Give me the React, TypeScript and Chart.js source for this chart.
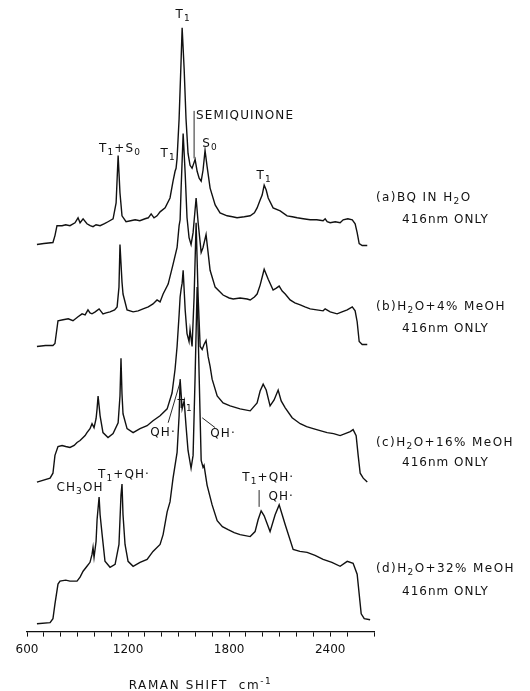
import React, { useEffect, useRef } from "react";
import { Chart, registerables } from "chart.js";

Chart.register(...registerables);

// Raman shift axis (cm-1)
const shiftMin = 600;
const shiftMax = 2660;
const shiftStep = 100;
const majorTicks = [600, 1200, 1800, 2400];

// Each trace: [Raman shift cm-1, relative intensity (offset trace stack)]
const traceA: [number, number][] = [
  [659, 391], [700, 392], [754, 393], [766, 400], [778, 410], [808, 410], [830, 411], [855, 410], [885, 413],
  [903, 418], [915, 413], [933, 417], [956, 412], [975, 410], [992, 409], [1010, 411], [1034, 410], [1060, 412],
  [1081, 414], [1111, 417], [1129, 433], [1141, 481], [1152, 443], [1164, 420], [1188, 414], [1215, 415],
  [1242, 416], [1270, 415], [1301, 417], [1320, 418], [1337, 422], [1354, 418], [1372, 420], [1390, 424],
  [1420, 428], [1449, 438], [1467, 455], [1479, 465], [1485, 468], [1491, 478], [1503, 518], [1515, 578],
  [1521, 610], [1533, 568], [1544, 518], [1556, 483], [1568, 471], [1580, 468], [1592, 474], [1598, 477],
  [1610, 465], [1622, 458], [1634, 455], [1645, 466], [1657, 486], [1669, 470], [1687, 448], [1717, 431],
  [1746, 423], [1788, 420], [1820, 419], [1847, 418], [1890, 419], [1925, 420], [1950, 423], [1966, 428],
  [1984, 436], [1996, 441], [2008, 451], [2020, 446], [2032, 438], [2061, 428], [2103, 425], [2144, 420],
  [2175, 419], [2204, 418], [2240, 417], [2281, 416], [2320, 416], [2358, 415], [2370, 417], [2382, 414],
  [2400, 413], [2430, 414], [2459, 413], [2477, 416], [2505, 417], [2531, 416], [2548, 412], [2560, 403],
  [2572, 392], [2590, 390], [2620, 390],
];

const traceB: [number, number][] = [
  [659, 288], [710, 289], [754, 289], [766, 291], [784, 314], [814, 315], [845, 316], [873, 314], [903, 318],
  [927, 321], [945, 320], [962, 325], [974, 322], [986, 321], [1005, 323], [1028, 326], [1051, 321], [1070, 322],
  [1093, 323], [1120, 325], [1135, 328], [1146, 348], [1152, 391], [1164, 353], [1170, 341], [1194, 325],
  [1230, 323], [1260, 324], [1289, 326], [1320, 328], [1348, 331], [1372, 335], [1390, 333], [1408, 341],
  [1438, 351], [1467, 371], [1491, 388], [1503, 410], [1509, 416], [1515, 448], [1527, 503], [1539, 463],
  [1550, 418], [1562, 398], [1574, 391], [1586, 403], [1604, 438], [1616, 413], [1634, 383], [1645, 388],
  [1663, 401], [1675, 383], [1687, 365], [1717, 348], [1764, 340], [1800, 337], [1824, 336], [1865, 337],
  [1907, 336], [1925, 335], [1950, 338], [1966, 341], [1984, 350], [2002, 362], [2008, 366], [2020, 361],
  [2032, 356], [2061, 345], [2080, 347], [2097, 349], [2115, 344], [2133, 341], [2162, 335], [2190, 332],
  [2222, 330], [2250, 328], [2281, 326], [2320, 325], [2358, 324], [2370, 326], [2400, 323], [2441, 321],
  [2470, 323], [2501, 325], [2531, 328], [2548, 324], [2560, 313], [2572, 293], [2590, 290], [2620, 290],
];

const traceC: [number, number][] = [
  [659, 151], [737, 155], [754, 160], [766, 178], [784, 187], [808, 188], [830, 187], [855, 186], [880, 188],
  [897, 191], [915, 193], [927, 195], [945, 198], [956, 201], [974, 205], [986, 210], [998, 206], [1010, 215],
  [1016, 225], [1022, 238], [1028, 228], [1034, 218], [1051, 201], [1081, 196], [1111, 200], [1141, 211],
  [1152, 238], [1158, 276], [1164, 240], [1170, 220], [1194, 205], [1230, 201], [1271, 205], [1313, 208],
  [1348, 213], [1390, 218], [1432, 225], [1461, 241], [1479, 265], [1491, 288], [1503, 320], [1509, 338],
  [1515, 346], [1521, 352], [1527, 365], [1539, 325], [1550, 301], [1562, 293], [1568, 305], [1580, 288],
  [1592, 338], [1604, 413], [1616, 338], [1628, 288], [1640, 285], [1651, 290], [1663, 294], [1675, 278],
  [1687, 268], [1699, 255], [1729, 238], [1764, 231], [1806, 228], [1865, 225], [1925, 223], [1966, 231],
  [1984, 243], [2002, 250], [2020, 244], [2043, 228], [2067, 234], [2091, 244], [2109, 233], [2133, 226],
  [2174, 216], [2222, 210], [2260, 207], [2299, 205], [2340, 203], [2382, 201], [2420, 200], [2459, 198],
  [2519, 202], [2536, 204], [2554, 198], [2566, 178], [2578, 160], [2596, 155], [2620, 151],
];

const traceD: [number, number][] = [
  [659, 8], [737, 9], [754, 13], [766, 28], [784, 48], [796, 51], [830, 52], [855, 51], [897, 51], [915, 55],
  [933, 61], [956, 66], [974, 70], [986, 78], [992, 85], [998, 75], [1010, 91], [1016, 113], [1028, 136],
  [1034, 118], [1046, 98], [1063, 71], [1093, 65], [1123, 68], [1146, 88], [1158, 138], [1164, 149], [1170, 118],
  [1182, 88], [1200, 71], [1230, 66], [1271, 70], [1313, 73], [1348, 81], [1390, 88], [1408, 98], [1432, 121],
  [1449, 131], [1467, 155], [1491, 181], [1503, 218], [1509, 255], [1521, 225], [1533, 233], [1544, 208],
  [1556, 183], [1574, 165], [1586, 178], [1598, 258], [1610, 348], [1622, 258], [1634, 173], [1645, 166],
  [1651, 168], [1669, 148], [1699, 128], [1729, 112], [1760, 106], [1794, 103], [1830, 100], [1865, 98],
  [1925, 96], [1954, 101], [1972, 113], [1990, 122], [2008, 117], [2043, 101], [2073, 118], [2097, 128],
  [2115, 118], [2133, 108], [2180, 83], [2220, 81], [2263, 80], [2310, 77], [2358, 73], [2410, 70], [2459, 66],
  [2501, 71], [2536, 69], [2560, 58], [2572, 38], [2584, 18], [2602, 13], [2637, 12],
];

type Part = { t: string; s?: "sub" | "sup" };

const T1: Part[] = [{ t: "T" }, { t: "1", s: "sub" }];

// Peak annotations, anchored at [shift, intensity]
const peakLabels: { parts: Part[]; shift: number; level: number; align: "left" | "center" }[] = [
  { parts: T1, shift: 1527, level: 623, align: "center" },
  { parts: [{ t: "SEMIQUINONE" }], shift: 1604, level: 521, align: "left" },
  { parts: [{ t: "S" }, { t: "0", s: "sub" }], shift: 1687, level: 493, align: "center" },
  { parts: [{ t: "T" }, { t: "1", s: "sub" }, { t: "+S" }, { t: "0", s: "sub" }], shift: 1152, level: 488, align: "center" },
  { parts: T1, shift: 1438, level: 483, align: "center" },
  { parts: T1, shift: 2008, level: 460, align: "center" },
  { parts: [{ t: "QH·" }], shift: 1408, level: 201, align: "center" },
  { parts: T1, shift: 1539, level: 229, align: "center" },
  { parts: [{ t: "QH·" }], shift: 1764, level: 200, align: "center" },
  { parts: [{ t: "CH" }, { t: "3", s: "sub" }, { t: "OH" }], shift: 915, level: 145, align: "center" },
  { parts: [{ t: "T" }, { t: "1", s: "sub" }, { t: "+QH·" }], shift: 1176, level: 158, align: "center" },
  { parts: [{ t: "T" }, { t: "1", s: "sub" }, { t: "+QH·" }], shift: 2032, level: 155, align: "center" },
  { parts: [{ t: "QH·" }], shift: 2109, level: 136, align: "center" },
];

const leaderLines: [number, number, number, number][] = [
  [1592, 526, 1592, 478],
  [1438, 211, 1509, 252],
  [1640, 216, 1717, 206],
  [1978, 143, 1978, 126],
];

const sampleLabels: { line1: Part[]; line2: string; level1: number; level2: number }[] = [
  { line1: [{ t: "(a)BQ IN H" }, { t: "2", s: "sub" }, { t: "O" }], line2: "416nm ONLY", level1: 438, level2: 416 },
  { line1: [{ t: "(b)H" }, { t: "2", s: "sub" }, { t: "O+4% MeOH" }], line2: "416nm ONLY", level1: 328, level2: 306 },
  { line1: [{ t: "(c)H" }, { t: "2", s: "sub" }, { t: "O+16% MeOH" }], line2: "416nm ONLY", level1: 191, level2: 170 },
  { line1: [{ t: "(d)H" }, { t: "2", s: "sub" }, { t: "O+32% MeOH" }], line2: "416nm ONLY", level1: 63, level2: 40 },
];

const axisTitle: Part[] = [{ t: "RAMAN SHIFT  cm" }, { t: "-1", s: "sup" }];

const FONT = '"DejaVu Sans", sans-serif';

function drawRich(
  ctx: CanvasRenderingContext2D,
  parts: Part[],
  x: number,
  y: number,
  align: "left" | "center",
  size: number,
  spacing: number
) {
  const base = `${size}px ${FONT}`;
  const small = `${Math.round(size * 0.78)}px ${FONT}`;
  (ctx as any).letterSpacing = `${spacing}px`;
  ctx.textAlign = "left";
  ctx.textBaseline = "middle";
  let total = 0;
  const widths = parts.map((p) => {
    ctx.font = p.s ? small : base;
    const w = ctx.measureText(p.t).width;
    total += w;
    return w;
  });
  let cx = align === "center" ? x - total / 2 : x;
  parts.forEach((p, i) => {
    ctx.font = p.s ? small : base;
    const dy = p.s === "sub" ? size * 0.32 : p.s === "sup" ? -size * 0.38 : 0;
    ctx.fillText(p.t, cx, y + dy);
    cx += widths[i];
  });
  (ctx as any).letterSpacing = "0px";
}

const annotationPlugin = {
  id: "spectraAnnotations",
  afterDraw(chart: any) {
    const ctx: CanvasRenderingContext2D = chart.ctx;
    const xs = chart.scales.x;
    const ys = chart.scales.y;
    const area = chart.chartArea;
    ctx.save();
    ctx.fillStyle = "#111";
    ctx.strokeStyle = "#111";
    ctx.lineWidth = 0.9;
    leaderLines.forEach(([x1, y1, x2, y2]) => {
      ctx.beginPath();
      ctx.moveTo(xs.getPixelForValue(x1), ys.getPixelForValue(y1));
      ctx.lineTo(xs.getPixelForValue(x2), ys.getPixelForValue(y2));
      ctx.stroke();
    });
    peakLabels.forEach((l) => {
      drawRich(ctx, l.parts, xs.getPixelForValue(l.shift), ys.getPixelForValue(l.level), l.align, 12, 1.1);
    });
    sampleLabels.forEach((s) => {
      drawRich(ctx, s.line1, area.right + 2, ys.getPixelForValue(s.level1), "left", 12, 1.4);
      drawRich(ctx, [{ t: s.line2 }], area.right + 28, ys.getPixelForValue(s.level2), "left", 12, 1);
    });
    drawRich(ctx, axisTitle, (area.left + area.right) / 2, 686, "center", 12, 1.6);
    ctx.restore();
  },
};

export default function App() {
  const ref = useRef<HTMLCanvasElement>(null);
  useEffect(() => {
    if (!ref.current) return;
    const toPts = (arr: [number, number][]) => arr.map(([x, y]) => ({ x, y }));
    const ds = (arr: [number, number][]) => ({
      data: toPts(arr),
      borderColor: "#111",
      borderWidth: 1.4,
      pointRadius: 0,
      tension: 0,
      fill: false,
    });
    const chart = new Chart(ref.current, {
      type: "line",
      data: { datasets: [ds(traceA), ds(traceB), ds(traceC), ds(traceD)] },
      options: {
        animation: false,
        responsive: false,
        events: [],
        layout: { padding: { left: 27, right: 156, top: 0, bottom: 28 } },
        plugins: { legend: { display: false }, tooltip: { enabled: false } },
        scales: {
          x: {
            type: "linear",
            min: shiftMin,
            max: shiftMax,
            border: { display: true, color: "#111", width: 1.3 },
            grid: { drawOnChartArea: false, drawTicks: true, tickLength: 5, color: "#111", lineWidth: 1 },
            ticks: {
              stepSize: shiftStep,
              autoSkip: false,
              maxRotation: 0,
              padding: 6,
              color: "#111",
              font: { family: "DejaVu Sans", size: 12 },
              callback: (v: any) => (majorTicks.includes(Number(v)) ? String(v) : ""),
            },
          },
          y: { display: false, min: 0, max: 638 },
        },
      },
      plugins: [annotationPlugin],
    } as any);
    return () => chart.destroy();
  }, []);
  return (
    <div style={{ position: "absolute", left: 0, top: 0, width: 530, height: 691, background: "#fff" }}>
      <canvas ref={ref} width={530} height={691} style={{ display: "block", width: 530, height: 691 }} />
    </div>
  );
}
